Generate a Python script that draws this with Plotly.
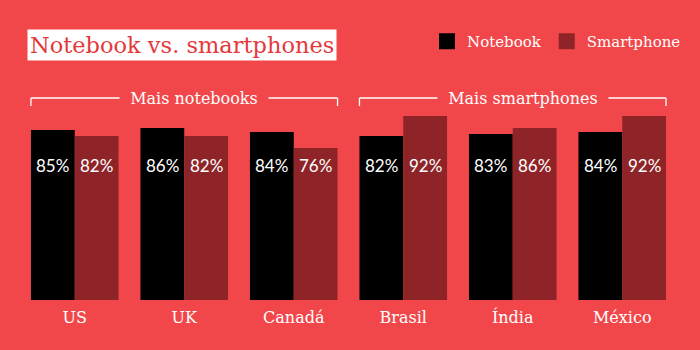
import plotly.graph_objects as go

countries = ["US", "UK", "Canadá", "Brasil", "Índia", "México"]
notebook = [85, 86, 84, 82, 83, 84]
smartphone = [82, 82, 76, 92, 86, 92]
series_names = ["Notebook", "Smartphone"]

BG = "#F2474A"
DARK = "#8E2427"
COLORS = ["#000000", DARK]
SERIF = "DejaVu Serif"
SANS = "Lato"

# plot area in pixels: x 20..677, y 100..300
PL, PR, PT, PB = 20, 677, 100, 300


def px(xp):
    return (xp - PL) / (PR - PL)


def py(yp):
    return (PB - yp) / (PB - PT)


fig = go.Figure()
for name, vals, col in zip(series_names, [notebook, smartphone], COLORS):
    fig.add_trace(go.Bar(name=name, x=countries, y=vals, showlegend=False,
                         marker=dict(color=col, line=dict(width=0))))
# legend entries with larger square swatches
for name, col in zip(series_names, COLORS):
    fig.add_trace(go.Scatter(name=name, x=[None], y=[None], mode="markers",
                             marker=dict(symbol="square", size=16, color=col)))

annotations = []
for i, c in enumerate(countries):
    annotations.append(dict(x=c, y=67.5, xref="x", yref="y", text=f"{notebook[i]}%", showarrow=False,
                            xshift=-22, font=dict(family=SANS, size=17, color="white")))
    annotations.append(dict(x=c, y=67.5, xref="x", yref="y", text=f"{smartphone[i]}%", showarrow=False,
                            xshift=22, font=dict(family=SANS, size=17, color="white")))

# title box
annotations.append(dict(x=px(27), y=py(29), xref="paper", yref="paper", xanchor="left", yanchor="top",
                        text="Notebook vs. smartphones", showarrow=False, bgcolor="white", borderpad=2,
                        font=dict(family=SERIF, size=22.5, color="#E5383B")))

# bracket labels
groups = [("Mais notebooks", -0.4, 2.4, 1.088), ("Mais smartphones", 2.6, 5.4, 4.095)]
shapes = []
yl = py(98)
yt = py(106)
for label, x0, x1, xc in groups:
    shapes.append(dict(type="line", xref="x", yref="paper", x0=x0, x1=x1, y0=yl, y1=yl,
                       line=dict(color="white", width=1.3)))
    shapes.append(dict(type="line", xref="x", yref="paper", x0=x0, x1=x0, y0=yl, y1=yt,
                       line=dict(color="white", width=1.3)))
    shapes.append(dict(type="line", xref="x", yref="paper", x0=x1, x1=x1, y0=yl, y1=yt,
                       line=dict(color="white", width=1.3)))
    annotations.append(dict(x=xc, y=yl, xref="x", yref="paper", text="&nbsp;&nbsp;" + label + "&nbsp;&nbsp;",
                            showarrow=False, bgcolor=BG, borderpad=0, xanchor="center", yanchor="middle",
                            font=dict(family=SERIF, size=16, color="white")))

fig.update_layout(
    width=700, height=350,
    margin=dict(l=PL, r=700 - PR, t=PT, b=350 - PB),
    paper_bgcolor=BG, plot_bgcolor=BG,
    barmode="group", bargap=0.2, bargroupgap=0,
    showlegend=True,
    legend=dict(orientation="h", xref="container", yref="container", x=0.98, xanchor="right",
                y=1 - 25 / 350, yanchor="top", font=dict(family=SERIF, size=15, color="white"),
                bgcolor="rgba(0,0,0,0)", itemwidth=30, tracegroupgap=0),
    xaxis=dict(showgrid=False, zeroline=False, showline=False, ticks="outside", ticklen=3,
               tickcolor="rgba(0,0,0,0)", tickfont=dict(family=SERIF, size=16, color="white")),
    yaxis=dict(range=[0, 100], visible=False, showgrid=False, zeroline=False),
    annotations=annotations, shapes=shapes,
)

fig.write_html("out.html")
